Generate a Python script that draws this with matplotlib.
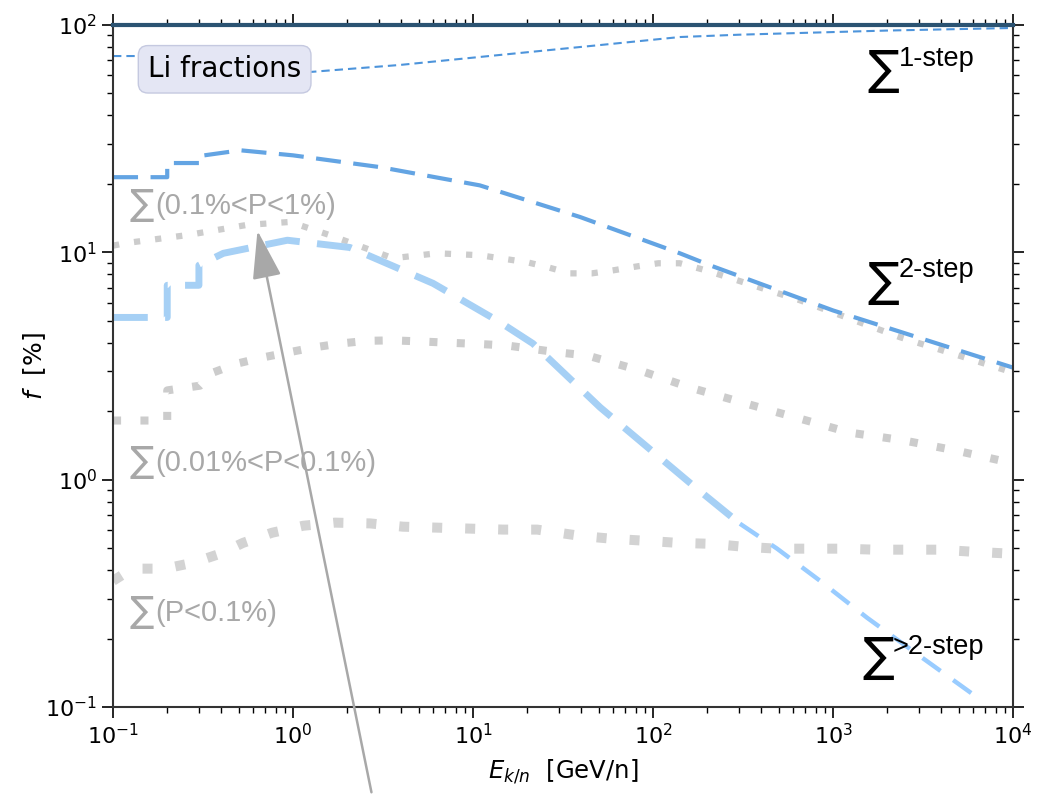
import matplotlib
matplotlib.use("Agg")
import matplotlib.pyplot as plt

# Li fraction curves (energy in GeV/n, f in %)
total_e = [0.1, 1e4]
total_f = [100.0, 100.0]

one_step_e = [0.1, 0.19, 0.2, 0.3, 1.24, 3.93, 14.1, 50.8, 141, 300, 656, 2000, 1e4]
one_step_f = [73.0, 73.0, 68.0, 63.0, 62.1, 66.7, 73.8, 81.6, 88.5, 90.6, 92.2, 94.5, 97.0]

two_step_e = [0.1, 0.2, 0.2, 0.3, 0.3, 0.51, 1.0, 3.04, 10.9, 39.3, 141, 207, 1000, 1e4]
two_step_f = [21.4, 21.4, 24.7, 24.7, 26.5, 28.1, 26.7, 23.7, 19.7, 14.3, 9.9, 8.77, 5.55, 3.11]

multi_step_e = [0.1, 0.2, 0.2, 0.3, 0.3, 0.41, 0.93, 2.07, 6.0, 14.1, 21.5, 50.8, 167, 304]
multi_step_f = [5.17, 5.17, 7.16, 7.16, 8.77, 9.9, 11.3, 10.5, 7.3, 4.93, 3.97, 2.08, 0.942, 0.64]
multi_tail_e = [304, 489, 847, 1545, 2929, 6150]
multi_tail_f = [0.64, 0.497, 0.359, 0.247, 0.171, 0.112]

p_mid_e = [0.1, 0.12, 0.258, 0.555, 0.962, 1.6, 3.59, 6.31, 10.9, 20, 26.1, 34.6, 45.8, 60,
           81.5, 107, 141, 200, 656, 2360, 1e4]
p_mid_f = [10.7, 11.0, 11.9, 13.2, 13.6, 11.9, 9.42, 9.9, 9.71, 9.04, 8.59, 8.08, 8.08, 8.33,
           8.67, 8.95, 8.95, 8.3, 6.15, 4.23, 2.96]

p_low_e = [0.1, 0.147, 0.2, 0.2, 0.304, 0.36, 0.489, 0.681, 0.927, 1.29, 1.82, 2.58, 3.59, 5.27,
           7.45, 10.9, 15.5, 30.4, 43, 84.7, 161, 316, 631, 1242, 2447, 4883, 1e4]
p_low_f = [1.82, 1.82, 1.82, 2.47, 2.59, 2.96, 3.24, 3.45, 3.62, 3.81, 3.97, 4.08, 4.10, 4.05,
           4.0, 3.95, 3.89, 3.62, 3.52, 3.02, 2.54, 2.18, 1.87, 1.61, 1.49, 1.34, 1.18]

p_tiny_e = [0.1, 0.128, 0.194, 0.278, 0.393, 0.527, 0.764, 1.14, 1.71, 2.68, 4.08, 6.31, 9.62,
            14.7, 22.7, 39.3, 60, 92.6, 138, 213, 316, 489, 745, 1136, 1711, 2577, 3927, 5916, 1e4]
p_tiny_f = [0.359, 0.406, 0.406, 0.431, 0.472, 0.527, 0.584, 0.627, 0.647, 0.642, 0.621, 0.615, 0.609,
            0.603, 0.603, 0.566, 0.549, 0.538, 0.527, 0.522, 0.507, 0.497, 0.497, 0.497, 0.492, 0.492,
            0.492, 0.482, 0.472]

fig = plt.figure(figsize=(10.39, 7.95), dpi=100)
ax = fig.add_axes([0.1088, 0.1107, 0.8662, 0.8579])

gray_dots = "#cccccc"
ax.plot(p_tiny_e, p_tiny_f, color="#d3d3d3", lw=7.2, dashes=(1, 2.3), dash_capstyle="butt")
ax.plot(p_low_e, p_low_f, color=gray_dots, lw=5.8, dashes=(1, 2.4), dash_capstyle="butt")
ax.plot(p_mid_e, p_mid_f, color=gray_dots, lw=4.5, dashes=(1, 2.4), dash_capstyle="butt")

ax.plot(multi_step_e, multi_step_f, color="#a6d0f5", lw=5, dashes=(5, 2.5))
ax.plot(multi_tail_e, multi_tail_f, color="#99ccff", lw=3.2, dashes=(5, 3.5))
ax.plot(two_step_e, two_step_f, color="#63a4e3", lw=3, dashes=(6, 3))
ax.plot(one_step_e, one_step_f, color="#4d94db", lw=1.5, dashes=(4, 2.4))
ax.plot(total_e, total_f, color="#2b5372", lw=3, clip_on=False, zorder=5)

ax.set_xscale("log")
ax.set_yscale("log")
ax.set_xlim(0.1, 1e4)
ax.set_ylim(0.1, 100)

ax.tick_params(which="both", direction="out", top=True, right=True, labelsize=16)
ax.tick_params(which="major", length=8, width=1.2)
ax.tick_params(which="minor", length=4, width=1)
for s in ax.spines.values():
    s.set_linewidth(1.5)
    s.set_color("#333333")

ax.set_xlabel(r"$E_{k/n}$  [GeV/n]", fontsize=17.5, labelpad=7)
ax.set_ylabel(r"$f$  [%]", fontsize=18)
ax.yaxis.set_label_coords(-0.072, 0.5)

ax.text(0.124, 0.935, "Li fractions", transform=ax.transAxes, fontsize=20,
        va="center", ha="center",
        bbox=dict(boxstyle="round,pad=0.35", facecolor="#e4e6f4", edgecolor="#c5c9e0"))


def fpx(x, y):
    return x / 1039, 1 - y / 795


def sum_label(xs, ys, xt, yt, text, color, sig_size, txt_size):
    fig.text(*fpx(xs, ys), "\u2211", color=color, fontsize=sig_size,
             ha="center", va="center", family="DejaVu Sans")
    fig.text(*fpx(xt, yt), text, color=color, fontsize=txt_size,
             ha="left", va="center", family="Liberation Sans")


sum_label(883, 71, 899, 59, "1-step", "black", 34, 19.5)
sum_label(883, 283, 899, 270, "2-step", "black", 34, 19.5)
sum_label(878, 658, 893, 647, ">2-step", "black", 34, 19.5)

grey_txt = "#a8a8a8"
sum_label(142, 205, 155, 206, "(0.1%<P<1%)", grey_txt, 26, 21)
sum_label(142, 462, 155, 463, "(0.01%<P<0.1%)", grey_txt, 26, 21)
sum_label(142, 612, 155, 613, "(P<0.1%)", grey_txt, 26, 21)

ax.annotate("", xy=(0.63, 12.8), xycoords="data",
            xytext=(372 / 1039, 0.0), textcoords="figure fraction",
            arrowprops=dict(arrowstyle="-|>,head_width=0.45,head_length=1.5",
                            mutation_scale=20, color="#a8a8a8", lw=1.8),
            annotation_clip=False)

fig.savefig("out.png", dpi=100)
